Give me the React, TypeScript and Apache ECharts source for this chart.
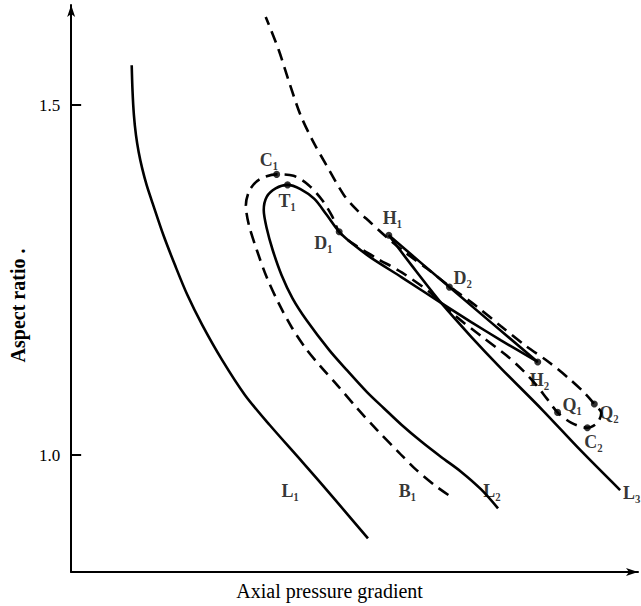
import { useEffect, useRef } from "react";
import * as echarts from "echarts";

// Axis ticks (aspect ratio)
const yTickValues = [1.0, 1.5];

// Curve L1 (solid) : [axial pressure gradient (arbitrary units), aspect ratio]
const curveL1: [number, number][] = [
  [6.1, 1.557], [6.18, 1.521], [6.32, 1.486], [6.53, 1.457], [6.8, 1.433], [7.15, 1.41],
  [7.6, 1.386], [8.2, 1.36], [9.3, 1.314], [10.5, 1.27], [11.7, 1.229], [13.2, 1.186],
  [15.2, 1.136], [17.5, 1.086], [20.0, 1.043], [23.3, 0.99], [26.6, 0.936], [29.9, 0.881],
];

// Curve L2 branch: lower end -> T1 -> D1 -> crossing -> H2
const curveL2: [number, number][] = [
  [43.0, 0.924], [41.3, 0.951], [39.3, 0.976], [37.3, 0.997], [35.3, 1.019], [33.3, 1.043],
  [31.5, 1.067], [29.8, 1.09], [27.8, 1.121], [26.0, 1.15], [23.7, 1.193], [22.3, 1.224],
  [21.2, 1.257], [20.3, 1.293], [19.7, 1.324], [19.4, 1.35], [19.7, 1.369], [20.6, 1.381],
  [21.8, 1.386], [23.1, 1.38], [24.5, 1.366], [25.7, 1.344], [27.0, 1.319], [28.5, 1.3],
  [30.3, 1.281], [33.3, 1.254], [37.3, 1.217], [40.3, 1.19], [43.3, 1.164], [47.0, 1.133],
];

// Segment H2 -> D2 -> H1
const curveH2H1: [number, number][] = [
  [47.0, 1.133], [38.1, 1.24], [32.0, 1.314],
];

// Curve L3: H1 -> crossing -> lower end
const curveL3: [number, number][] = [
  [32.0, 1.314], [34.3, 1.271], [37.3, 1.217], [40.3, 1.169], [43.3, 1.124],
  [47.5, 1.064], [51.3, 1.007], [55.3, 0.95],
];

// Dashed curve B1: lower end -> C1 -> D1 -> Q1 -> C2 -> Q2 -> D2 -> top
const curveB1: [number, number][] = [
  [38.0, 0.943], [36.6, 0.957], [34.6, 0.981], [33.0, 1.004], [30.8, 1.036], [28.8, 1.067],
  [26.8, 1.1], [25.1, 1.127], [23.6, 1.153], [22.2, 1.183], [20.9, 1.217], [19.7, 1.254],
  [18.7, 1.293], [17.9, 1.329], [17.6, 1.357], [18.0, 1.379], [19.0, 1.394], [20.7, 1.401],
  [22.4, 1.399], [23.9, 1.386], [25.3, 1.364], [26.3, 1.341], [27.0, 1.319], [28.5, 1.301],
  [30.8, 1.281], [33.3, 1.261], [36.1, 1.233], [38.6, 1.2], [41.3, 1.17], [43.8, 1.143],
  [45.5, 1.121], [46.8, 1.101], [47.9, 1.081], [49.0, 1.061], [50.4, 1.046], [52.0, 1.039],
  [53.0, 1.046], [53.4, 1.06], [52.7, 1.073], [51.7, 1.089], [50.1, 1.11], [48.1, 1.133],
  [45.8, 1.156], [43.3, 1.184], [40.8, 1.213], [38.3, 1.239], [35.8, 1.267], [33.6, 1.29],
  [31.8, 1.311], [30.1, 1.333], [28.8, 1.35], [27.5, 1.371], [26.0, 1.407], [24.3, 1.45],
  [23.1, 1.486], [22.0, 1.531], [20.9, 1.579], [19.6, 1.626],
];

// Marked points
const pointNames = ["C₁", "T₁", "D₁", "H₁", "D₂", "H₂", "Q₁", "Q₂", "C₂"];
const pointValues: [number, number][] = [
  [20.7, 1.401], [21.8, 1.386], [27.0, 1.319], [32.0, 1.314], [38.1, 1.24],
  [47.0, 1.133], [49.0, 1.061], [52.7, 1.073], [52.0, 1.039],
];

// Curve end labels
const curveLabelNames = ["L₁", "B₁", "L₂", "L₃"];
const curveLabelAt: [number, number][] = [
  [21.2, 0.949], [33.0, 0.949], [41.5, 0.949], [55.6, 0.946],
];

// label offsets (style) for point labels, in px relative to the point
const pointLabelOffsets: [number, number][] = [
  [-17, -14], [-9, 16], [-25, 11], [-6, -17], [4, -9], [-8, 18], [5, -7], [5, 9], [-3, 14],
];

const serif = "'Liberation Serif', 'DejaVu Serif', 'Times New Roman', serif";

export default function App() {
  const ref = useRef<HTMLDivElement>(null);
  useEffect(() => {
    if (!ref.current) return;
    const chart = echarts.init(ref.current, undefined, { renderer: "svg" });
    const solid = { color: "#000", width: 2.6 };
    const labelText = {
      fontFamily: serif,
      fontSize: 18,
      fontWeight: "bold" as const,
      color: "#000",
    };
    chart.setOption({
      animation: false,
      backgroundColor: "#fff",
      grid: { left: 67, right: 3, top: 5, bottom: 34 },
      xAxis: {
        type: "value",
        min: 0,
        max: 57.1,
        axisLine: {
          show: true,
          onZero: false,
          lineStyle: { color: "#000", width: 2 },
          symbol: ["none", "arrow"],
          symbolSize: [6, 12],
        },
        axisTick: { show: false },
        axisLabel: { show: false },
        splitLine: { show: false },
        name: "Axial pressure gradient",
        nameLocation: "middle",
        nameGap: 9,
        nameTextStyle: {
          fontFamily: serif,
          fontSize: 20,
          color: "#000",
          verticalAlign: "top",
          padding: [0, 50, 0, 0],
        },
      },
      yAxis: {
        type: "value",
        min: 0.833,
        max: 1.643,
        axisLine: {
          show: true,
          onZero: false,
          lineStyle: { color: "#000", width: 2 },
          symbol: ["none", "arrow"],
          symbolSize: [6, 12],
        },
        axisTick: {
          show: true,
          inside: true,
          length: 10,
          lineStyle: { color: "#000", width: 2 },
          customValues: yTickValues,
        },
        axisLabel: {
          show: true,
          customValues: yTickValues,
          formatter: (v: number) => v.toFixed(1),
          margin: 11,
          fontFamily: serif,
          fontSize: 17,
          color: "#000",
        },
        splitLine: { show: false },
        name: "Aspect ratio .",
        nameLocation: "middle",
        nameGap: 38,
        nameRotate: 90,
        nameTextStyle: {
          fontFamily: serif,
          fontSize: 20,
          fontWeight: "bold",
          color: "#000",
          padding: [0, 34, 0, 0],
        },
      },
      series: [
        { type: "line", name: "L1", data: curveL1, smooth: 0.3, symbol: "none", lineStyle: solid },
        { type: "line", name: "L2", data: curveL2, smooth: 0.3, symbol: "none", lineStyle: solid },
        { type: "line", name: "H2-H1", data: curveH2H1, smooth: 0.2, symbol: "none", lineStyle: solid },
        { type: "line", name: "L3", data: curveL3, smooth: 0.3, symbol: "none", lineStyle: solid },
        {
          type: "line",
          name: "B1",
          data: curveB1,
          smooth: 0.3,
          symbol: "none",
          lineStyle: { color: "#000", width: 2.6, type: [12, 7] },
        },
        {
          type: "scatter",
          name: "points",
          symbolSize: 7,
          itemStyle: { color: "#000" },
          z: 5,
          data: pointValues.map((v, i) => ({
            value: v,
            label: {
              show: true,
              formatter: pointNames[i],
              position: "inside",
              offset: pointLabelOffsets[i],
              align: "left",
              verticalAlign: "middle",
              ...labelText,
            },
          })),
        },
        {
          type: "scatter",
          name: "curve labels",
          symbolSize: 0,
          z: 5,
          clip: false,
          data: curveLabelAt.map((v, i) => ({
            value: v,
            label: {
              show: true,
              formatter: curveLabelNames[i],
              position: "inside",
              align: "left",
              verticalAlign: "middle",
              ...labelText,
            },
          })),
        },
      ],
    });
    return () => chart.dispose();
  }, []);
  return (
    <div
      ref={ref}
      style={{ position: "fixed", left: 0, top: 0, width: 641, height: 606, background: "#fff" }}
    />
  );
}
